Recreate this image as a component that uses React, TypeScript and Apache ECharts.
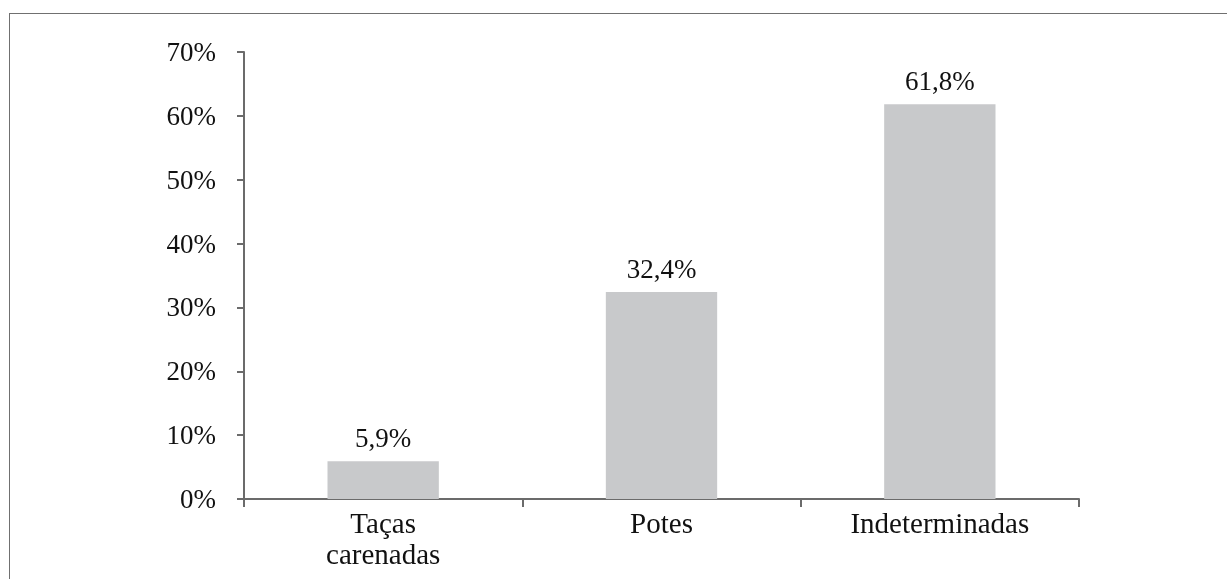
import React, { useEffect, useRef } from "react";
import * as echarts from "echarts";

const categories = ["Taças\ncarenadas", "Potes", "Indeterminadas"];
const values = [5.9, 32.4, 61.8];
const yTicks = { min: 0, max: 70, interval: 10 };

export default function App() {
  const ref = useRef<HTMLDivElement>(null);
  useEffect(() => {
    if (!ref.current) return;
    const chart = echarts.init(ref.current, undefined, { renderer: "svg" });
    chart.setOption({
      animation: false,
      grid: { left: 244, right: 148, top: 52, bottom: 80 },
      xAxis: {
        type: "category",
        data: categories,
        boundaryGap: true,
        axisLine: { lineStyle: { color: "#6b6b6b", width: 2 } },
        axisTick: { show: true, length: 8, lineStyle: { color: "#6b6b6b", width: 2 } },
        axisLabel: {
          interval: 0,
          margin: 8,
          fontSize: 29,
          formatter: (v: string) => v.split("\n").map((s) => "{a|" + s + "}").join("\n"),
          rich: { a: { fontFamily: "Liberation Serif", fontSize: 29, lineHeight: 31, color: "#111" } },
        },
        splitLine: { show: false },
      },
      yAxis: {
        type: "value",
        min: yTicks.min,
        max: yTicks.max,
        interval: yTicks.interval,
        axisLine: { show: true, lineStyle: { color: "#6b6b6b", width: 2 } },
        axisTick: { show: true, length: 7, lineStyle: { color: "#6b6b6b", width: 2 } },
        axisLabel: {
          margin: 28,
          fontFamily: "serif",
          fontSize: 27,
          color: "#111",
          formatter: "{value}%",
        },
        splitLine: { show: false },
      },
      series: [
        {
          type: "bar",
          data: values,
          barWidth: "40%",
          itemStyle: { color: "#c8c9cb" },
          label: {
            show: true,
            position: "top",
            distance: 10,
            fontFamily: "Times New Roman",
            fontStyle: "normal",
            fontWeight: "normal",
            fontSize: 27,
            color: "#111",
            formatter: (p: any) => String(p.value).replace(".", ",") + "%",
          },
        },
      ],
    });
    return () => chart.dispose();
  }, []);
  return (
    <div>
      <div
        style={{
          position: "fixed",
          left: 9,
          top: 13,
          width: 1240,
          height: 600,
          borderTop: "1.5px solid #707070",
          borderLeft: "1.5px solid #707070",
        }}
      />
      <div ref={ref} style={{ position: "fixed", left: 0, top: 0, width: 1227, height: 579 }} />
    </div>
  );
}
